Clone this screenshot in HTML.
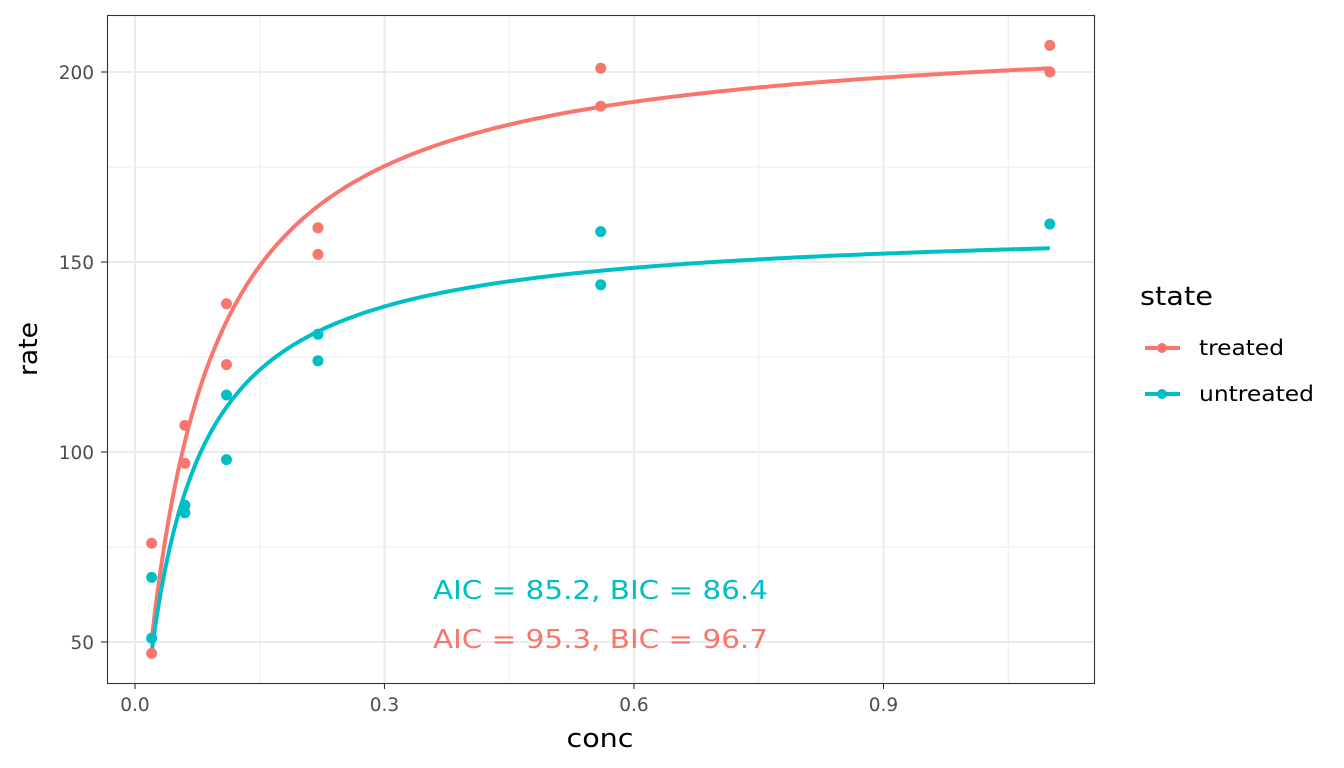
<!DOCTYPE html>
<html><head><meta charset="utf-8"><style>
body{margin:0;background:#fff;}
svg{display:block;font-family:"DejaVu Sans","Liberation Sans",sans-serif;}
</style></head><body>
<svg id="chart" width="1344" height="768" viewBox="0 0 1344 768">
<rect width="1344" height="768" fill="#fff"/>
<g id="grid"></g>
<g id="curves"></g>
<g id="points"></g>
<rect x="107.5" y="15.5" width="987" height="668" fill="none" stroke="#333" stroke-width="1.1"/>
<g id="axes"></g>
<text x="600" y="747" font-size="26" text-anchor="middle" fill="#000" textLength="67" lengthAdjust="spacingAndGlyphs">conc</text>
<text transform="translate(37,349) rotate(-90)" font-size="26" text-anchor="middle" fill="#000" textLength="54" lengthAdjust="spacingAndGlyphs">rate</text>
<text x="433" y="599" font-size="26" fill="#00BFC4" textLength="335" lengthAdjust="spacingAndGlyphs">AIC = 85.2, BIC = 86.4</text>
<text x="433" y="648" font-size="26" fill="#F8766D" textLength="335" lengthAdjust="spacingAndGlyphs">AIC = 95.3, BIC = 96.7</text>
<g>
<text x="1140" y="305" font-size="26" fill="#000" textLength="73" lengthAdjust="spacingAndGlyphs">state</text>
<g>
<line x1="1145" y1="348" x2="1180" y2="348" stroke="#F8766D" stroke-width="4"/><circle cx="1162" cy="348" r="5" fill="#F8766D"/>
<text x="1199" y="355" font-size="21" fill="#000" textLength="85" lengthAdjust="spacingAndGlyphs">treated</text></g>
<g>
<line x1="1145" y1="394" x2="1180" y2="394" stroke="#00BFC4" stroke-width="4"/><circle cx="1162" cy="394" r="5" fill="#00BFC4"/>
<text x="1199" y="401" font-size="21" fill="#000" textLength="115" lengthAdjust="spacingAndGlyphs">untreated</text></g>
</g>
</svg>
<script>
const treatedConc=[0.02,0.02,0.06,0.06,0.11,0.11,0.22,0.22,0.56,0.56,1.10,1.10];
const treatedRate=[76,47,97,107,123,139,159,152,191,201,207,200];
const untreatedConc=[0.02,0.02,0.06,0.06,0.11,0.11,0.22,0.22,0.56,0.56,1.10];
const untreatedRate=[67,51,84,86,98,115,131,124,144,158,160];
const fitParams={treated:[212.68,0.06412],untreated:[160.28,0.04771]};
const xTicks=[0.0,0.3,0.6,0.9];
const xTickLabels=["0.0","0.3","0.6","0.9"];
const xMinor=[0.15,0.45,0.75,1.05];
const yTicks=[50,100,150,200];
const yMinor=[75,125,175];

const NS="http://www.w3.org/2000/svg";
const X=v=>135+v*831.67;
const Y=v=>642-(v-50)*3.8;
function mk(tag,attrs,parent){const e=document.createElementNS(NS,tag);for(const k in attrs)e.setAttribute(k,attrs[k]);parent.appendChild(e);return e;}
const grid=document.getElementById('grid'),axes=document.getElementById('axes');
xMinor.forEach(v=>{const l=mk('line',{x1:X(v),x2:X(v),y1:15,y2:683,stroke:'#ebebeb','stroke-width':1},grid);

});
yMinor.forEach(v=>{const l=mk('line',{x1:107,x2:1094,y1:Y(v),y2:Y(v),stroke:'#ebebeb','stroke-width':1},grid);

});
xTicks.forEach((v,i)=>{const l=mk('line',{x1:X(v),x2:X(v),y1:15,y2:683,stroke:'#ebebeb','stroke-width':2},grid);


mk('line',{x1:X(v),x2:X(v),y1:683,y2:689,stroke:'#333','stroke-width':1.1},axes);
const t=mk('text',{x:X(v),y:711,'font-size':18.5,'text-anchor':'middle',fill:'#4d4d4d'},axes);t.textContent=xTickLabels[i];

});
yTicks.forEach(v=>{const l=mk('line',{x1:107,x2:1094,y1:Y(v),y2:Y(v),stroke:'#ebebeb','stroke-width':2},grid);


mk('line',{x1:101,x2:107,y1:Y(v),y2:Y(v),stroke:'#333','stroke-width':1.1},axes);
const t=mk('text',{x:94,y:Y(v)+7,'font-size':18.5,'text-anchor':'end',fill:'#4d4d4d'},axes);t.textContent=v;

});
const curves=document.getElementById('curves'),pts=document.getElementById('points');
function curve(p,color,name){let d='';for(let i=0;i<=200;i++){const c=0.02+(1.10-0.02)*i/200;const r=p[0]*c/(p[1]+c);d+=(i?'L':'M')+X(c).toFixed(1)+','+Y(r).toFixed(1);}
const e=mk('path',{d:d,fill:'none',stroke:color,'stroke-width':4},curves);

}
curve(fitParams.treated,'#F8766D','treated-fit-line');
curve(fitParams.untreated,'#00BFC4','untreated-fit-line');
function points(cs,rs,color,name){cs.forEach((c,i)=>{const e=mk('circle',{cx:X(c),cy:Y(rs[i]),r:5.5,fill:color},pts);

});}
points(treatedConc,treatedRate,'#F8766D','treated-point');
points(untreatedConc,untreatedRate,'#00BFC4','untreated-point');
</script>
</body></html>
